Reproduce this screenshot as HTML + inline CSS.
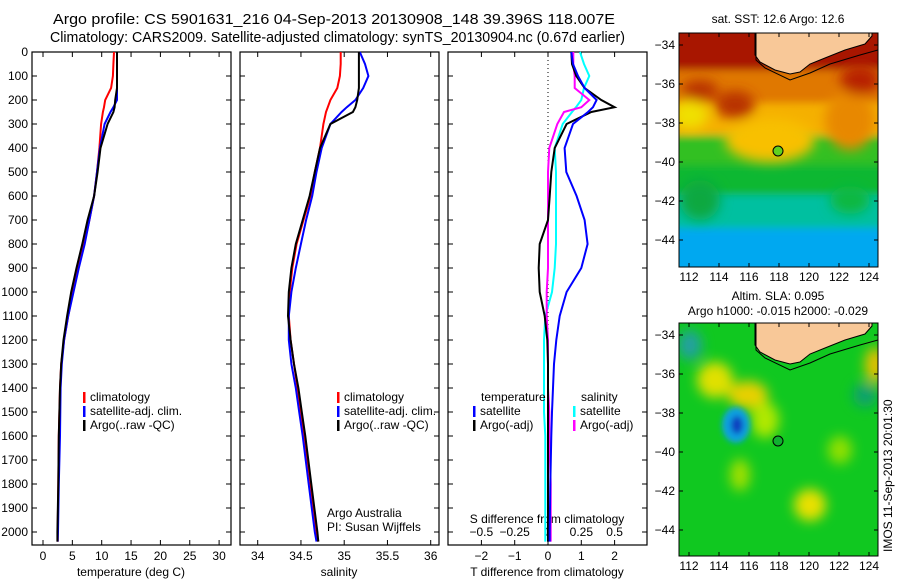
<!DOCTYPE html>
<html><head><meta charset="utf-8"><style>
body{margin:0;background:#fff;}
svg text{font-family:"Liberation Sans",sans-serif;font-size:12px;fill:#000;}
svg text.ttl{font-size:14.5px;}
</style></head><body>
<svg id="fig" width="900" height="580" viewBox="0 0 900 580" xmlns="http://www.w3.org/2000/svg">
<defs>
<filter id="bl" x="-50%" y="-50%" width="200%" height="200%"><feGaussianBlur stdDeviation="6"/></filter>
<filter id="bl2" x="-50%" y="-50%" width="200%" height="200%"><feGaussianBlur stdDeviation="3"/></filter>
<filter id="bl3" x="-20%" y="-20%" width="140%" height="140%"><feGaussianBlur stdDeviation="4"/></filter>
<clipPath id="c1"><rect x="679" y="33" width="199" height="234"/></clipPath>
<clipPath id="c2"><rect x="679" y="323" width="199" height="233"/></clipPath>
</defs>
<text class="ttl" x="53" y="24" textLength="562" lengthAdjust="spacingAndGlyphs">Argo profile: CS 5901631_216 04-Sep-2013 20130908_148 39.396S 118.007E</text>
<text class="ttl" x="50" y="42" textLength="575" lengthAdjust="spacingAndGlyphs">Climatology: CARS2009. Satellite-adjusted climatology: synTS_20130904.nc (0.67d earlier)</text>
<g id="g1"></g>
<g id="g2"></g>
<g id="g3"></g>

<!-- SST map -->
<g>
<text x="778" y="23" text-anchor="middle">sat. SST: 12.6 Argo: 12.6</text>
<g clip-path="url(#c1)">
<g filter="url(#bl3)">
<rect x="660" y="20" width="240" height="260" fill="#00a8f0"/>
<rect x="660" y="20" width="240" height="208" fill="#00c0a0"/>
<rect x="660" y="20" width="240" height="175" fill="#10b830"/>
<rect x="660" y="20" width="240" height="145" fill="#30c020"/>
<rect x="660" y="20" width="240" height="115" fill="#f5b000"/>
<rect x="660" y="20" width="240" height="83" fill="#e07800"/>
<rect x="660" y="20" width="240" height="50" fill="#a81800"/>
</g>
<g filter="url(#bl)">
<ellipse cx="770" cy="140" rx="45" ry="22" fill="#f8c000"/>
<ellipse cx="690" cy="115" rx="18" ry="14" fill="#f0e000"/>
<ellipse cx="850" cy="120" rx="25" ry="30" fill="#e88800"/>
<ellipse cx="735" cy="105" rx="20" ry="14" fill="#b83000"/>
<ellipse cx="700" cy="90" rx="18" ry="10" fill="#b83000"/>
<ellipse cx="860" cy="80" rx="20" ry="15" fill="#b82000"/>
<ellipse cx="700" cy="200" rx="20" ry="20" fill="#10a840"/>
<ellipse cx="850" cy="200" rx="20" ry="14" fill="#10b840"/>
</g>
<path d="M755,33 L755,55 L760,62 L775,70 L790,74 L800,72 L810,64 L825,58 L845,50 L865,44 L872,36 L872,33Z" fill="#f8c898" stroke="#000" stroke-width="1"/>
<path d="M756,33 L756,60 L765,68 L790,80 L810,73 L830,64 L860,55 L878,50" fill="none" stroke="#000" stroke-width="1"/>
</g>
<rect x="679" y="33" width="199" height="234" fill="none" stroke="#000"/>
<circle cx="778" cy="151" r="5" fill="#60d020" stroke="#000"/>
</g>

<!-- SLA map -->
<g>
<text x="778" y="300" text-anchor="middle">Altim. SLA: 0.095</text>
<text x="778" y="315" text-anchor="middle">Argo h1000: -0.015 h2000: -0.029</text>
<g clip-path="url(#c2)">
<rect x="679" y="323" width="199" height="233" fill="#10c820"/>
<g filter="url(#bl)">
<ellipse cx="715" cy="380" rx="18" ry="18" fill="#e0e000"/>
<ellipse cx="748" cy="395" rx="20" ry="14" fill="#e8d000"/>
<ellipse cx="765" cy="420" rx="14" ry="18" fill="#b0e800"/>
<ellipse cx="810" cy="505" rx="16" ry="16" fill="#e8e000"/>
<ellipse cx="875" cy="365" rx="10" ry="18" fill="#e8c000"/>
<ellipse cx="840" cy="450" rx="12" ry="14" fill="#90e000"/>
<ellipse cx="740" cy="475" rx="10" ry="16" fill="#a0e000"/>
<ellipse cx="690" cy="345" rx="12" ry="15" fill="#20a0a0"/>
<ellipse cx="865" cy="395" rx="12" ry="12" fill="#10a070"/>
</g>
<g filter="url(#bl2)">
<ellipse cx="736" cy="425" rx="14" ry="18" fill="#10a0e0"/>
<ellipse cx="737" cy="425" rx="6" ry="9" fill="#1040c0"/>
</g>
<path d="M755,323 L755,345 L760,352 L775,360 L790,364 L800,362 L810,354 L825,348 L845,340 L865,334 L872,326 L872,323Z" fill="#f8c898" stroke="#000" stroke-width="1"/>
<path d="M756,323 L756,350 L765,358 L790,370 L810,363 L830,354 L860,345 L878,340" fill="none" stroke="#000" stroke-width="1"/>
</g>
<rect x="679" y="323" width="199" height="233" fill="none" stroke="#000"/>
<circle cx="778" cy="441" r="5" fill="#10b030" stroke="#000"/>
</g>
<text transform="translate(892,552) rotate(-90)" x="0" y="0">IMOS 11-Sep-2013 20:01:30</text>
<g id="mapaxes"></g>
</svg>
<script>
const NS="http://www.w3.org/2000/svg";
const depths=[0,50,100,150,200,230,250,300,400,500,600,700,800,900,1000,1100,1200,1300,1400,1500,1600,1800,2000,2040];
const tClim=[12.1,12.0,11.9,11.6,10.6,10.4,10.2,9.9,9.6,9.2,8.7,7.9,7.0,6.0,5.1,4.3,3.6,3.1,2.9,2.8,2.7,2.6,2.5,2.5];
const tSat=[12.6,12.6,12.6,12.6,12.6,12.0,11.5,10.5,9.7,9.2,8.7,7.9,7.1,6.1,5.2,4.3,3.6,3.2,3.0,2.95,2.9,2.7,2.55,2.5];
const tArgo=[12.6,12.6,12.6,12.6,12.3,12.2,12.0,11.0,9.8,9.3,8.7,7.6,6.7,5.7,4.8,4.1,3.5,3.1,2.9,2.8,2.7,2.6,2.45,2.45];
const sClim=[34.96,34.96,34.95,34.92,34.84,34.81,34.79,34.76,34.72,34.66,34.61,34.53,34.45,34.40,34.37,34.36,34.38,34.42,34.46,34.50,34.54,34.61,34.68,34.70];
const sSat=[35.18,35.24,35.28,35.22,35.13,35.03,34.97,34.84,34.74,34.68,34.63,34.56,34.50,34.44,34.39,34.36,34.36,34.39,34.44,34.48,34.52,34.59,34.66,34.68];
const sArgo=[35.17,35.17,35.17,35.17,35.15,35.13,35.10,34.84,34.72,34.66,34.60,34.52,34.44,34.39,34.36,34.35,34.38,34.42,34.47,34.51,34.55,34.62,34.69,34.70];
const dT_sat=[0.7,0.75,0.9,1.1,1.46,1.35,1.2,0.75,0.5,0.55,0.86,1.1,1.19,1.0,0.56,0.35,0.25,0.18,0.15,0.12,0.1,0.07,0.05,0.05];
const dT_argo=[0.7,0.72,0.85,1.1,1.6,2.0,1.3,0.56,0.2,0.1,0.05,0.0,-0.25,-0.28,-0.25,-0.1,-0.02,0,0,0,0,0,0,0];
const dS_sat=[0.24,0.27,0.31,0.27,0.25,0.21,0.18,0.11,0.05,0.06,0.06,0.06,0.06,0.05,0.03,-0.02,-0.03,-0.03,-0.03,-0.03,-0.02,-0.02,-0.02,-0.02];
const dS_argo=[0.19,0.19,0.2,0.2,0.31,0.25,0.12,0.07,0.01,0,0,0,0,0,-0.01,-0.01,0,0,0,0.01,0.01,0.02,0.02,0.02];
const depthTicks=[0,100,200,300,400,500,600,700,800,900,1000,1100,1200,1300,1400,1500,1600,1700,1800,1900,2000];
const tTicks=[0,5,10,15,20,25,30];
const sTicks=[34,34.5,35,35.5,36];
const dTTicks=[-2,-1,0,1,2];
const dSTicks=[-0.5,-0.25,0,0.25,0.5];
const lonTicks=[112,114,116,118,120,122,124];
const latTicks=[-34,-36,-38,-40,-42,-44];

const Y=d=>52+d*0.24;
const xT=v=>43+v*5.87;
const xS=v=>257.7+(v-34)*86.5;
const xDT=v=>548+v*33.3;
const xDS=v=>548+v*133.3;

function el(tag,attrs,parent){const e=document.createElementNS(NS,tag);for(const k in attrs)e.setAttribute(k,attrs[k]);parent.appendChild(e);return e;}
function txt(s,x,y,anchor,parent){const t=el("text",{x:x,y:y,"text-anchor":anchor},parent);t.textContent=s;return t;}

function panel(g,x0,name){
  const r=el("rect",{x:x0,y:52,width:199,height:493,fill:"none",stroke:"#000","stroke-width":1.2},g);
  
  
  depthTicks.forEach(d=>{
    el("line",{x1:x0,x2:x0+5,y1:Y(d),y2:Y(d),stroke:"#000"},g);
    el("line",{x1:x0+199,x2:x0+194,y1:Y(d),y2:Y(d),stroke:"#000"},g);
  });
}
function line(g,xs,f,color,name){
  const p=el("polyline",{points:xs.map((v,i)=>f(v).toFixed(1)+","+Y(depths[i]).toFixed(1)).join(" "),fill:"none",stroke:color,"stroke-width":2},g);
  
  
}
function xticks(g,ticks,f,y,labelY,name,top){
  ticks.forEach(v=>{
    el("line",{x1:f(v),x2:f(v),y1:545,y2:540,stroke:"#000"},g);
    if(top) el("line",{x1:f(v),x2:f(v),y1:52,y2:57,stroke:"#000"},g);
    const t=txt(String(v).replace("-","\u2212"),f(v),labelY,"middle",g);
    
    
  });
}
function legend(g,x,y,items){
  items.forEach((it,i)=>{
    el("rect",{x:x,y:y+i*14-9,width:2.5,height:11,fill:it[1]},g);
    const t=txt(it[0],x+7,y+i*14,"start",g);
    
    
  });
}
const g1=document.getElementById("g1"),g2=document.getElementById("g2"),g3=document.getElementById("g3");
panel(g1,32,"temperature");panel(g2,240,"salinity");panel(g3,448,"difference");
depthTicks.forEach(d=>{
  const t=txt(String(d),28,Y(d)+4,"end",g1);
  
  
});
xticks(g1,tTicks,xT,545,560,"temperature",true);
xticks(g2,sTicks,xS,545,560,"salinity",true);
xticks(g3,dTTicks,xDT,545,560,"t-diff",true);
dSTicks.forEach(v=>{
  const t=txt(String(v).replace("-","\u2212"),xDS(v),536,"middle",g3);
  
  
});
let a=txt("temperature (deg C)",131,576,"middle",g1);
a=txt("salinity",339,576,"middle",g2);
a=txt("T difference from climatology",547,576,"middle",g3);
a=txt("S difference from climatology",547,523,"middle",g3);
a=txt("Argo Australia",327,517,"start",g2);
a=txt("PI: Susan Wijffels",327,531,"start",g2);
el("line",{x1:548,x2:548,y1:52,y2:545,stroke:"#000","stroke-dasharray":"1,3"},g3);
line(g1,tClim,xT,"#f00","temp-climatology-line");
line(g1,tSat,xT,"#00f","temp-satellite-line");
line(g1,tArgo,xT,"#000","temp-argo-line");
line(g2,sClim,xS,"#f00","sal-climatology-line");
line(g2,sSat,xS,"#00f","sal-satellite-line");
line(g2,sArgo,xS,"#000","sal-argo-line");
line(g3,dS_sat,xDS,"#0ff","s-diff-satellite-line");
line(g3,dS_argo,xDS,"#f0f","s-diff-argo-line");
line(g3,dT_argo,xDT,"#000","t-diff-argo-line");
line(g3,dT_sat,xDT,"#00f","t-diff-satellite-line");
legend(g1,83,401,[["climatology","#f00"],["satellite-adj. clim.","#00f"],["Argo(..raw -QC)","#000"]]);
legend(g2,337,401,[["climatology","#f00"],["satellite-adj. clim.","#00f"],["Argo(..raw -QC)","#000"]]);
a=txt("temperature",481,401,"start",g3);
a=txt("salinity",581,401,"start",g3);
legend(g3,473,415,[["satellite","#00f"],["Argo(-adj)","#000"]]);
legend(g3,573,415,[["satellite","#0ff"],["Argo(-adj)","#f0f"]]);

const ma=document.getElementById("mapaxes");
[[33,267,45,19.5,281],[323,556,335,19.5,570]].forEach(m=>{
  lonTicks.forEach(l=>{
    const x=689+(l-112)*15;
    el("line",{x1:x,x2:x,y1:m[1],y2:m[1]-4,stroke:"#000"},ma);
    el("line",{x1:x,x2:x,y1:m[0],y2:m[0]+4,stroke:"#000"},ma);
    const t=txt(String(l),x,m[4],"middle",ma);
    
    
  });
  latTicks.forEach(l=>{
    const y=m[2]+(-34-l)*m[3];
    el("line",{x1:679,x2:683,y1:y,y2:y,stroke:"#000"},ma);
    el("line",{x1:878,x2:874,y1:y,y2:y,stroke:"#000"},ma);
    const t=txt(String(l).replace("-","\u2212"),675,y+4,"end",ma);
    
    
  });
});
</script>
</body></html>
